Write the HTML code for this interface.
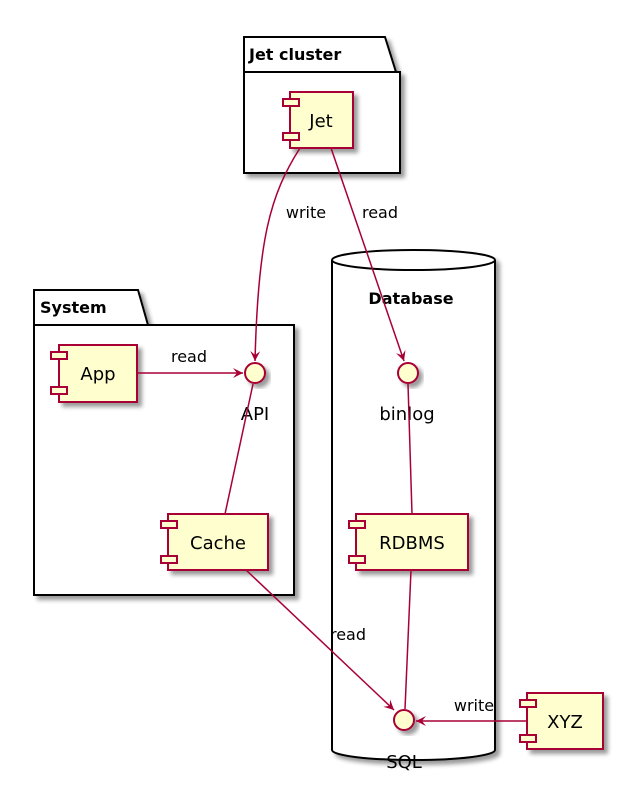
<!DOCTYPE html>
<html><head><meta charset="utf-8"><style>
html,body{margin:0;padding:0;background:#fff;}
svg{display:block;font-family:"DejaVu Sans","Liberation Sans",sans-serif;}
</style></head><body>
<svg width="619" height="789" viewBox="0 0 619 789" xmlns="http://www.w3.org/2000/svg">
<defs>
<filter id="sh" x="-20%" y="-20%" width="150%" height="150%"><feGaussianBlur in="SourceAlpha" stdDeviation="2"/><feOffset dx="4" dy="4"/><feComponentTransfer><feFuncA type="linear" slope="0.4"/></feComponentTransfer><feMerge><feMergeNode/><feMergeNode in="SourceGraphic"/></feMerge></filter>
<marker id="ar" markerWidth="12" markerHeight="12" refX="10" refY="5" orient="auto" markerUnits="userSpaceOnUse"><path d="M0,0 L10,5 L0,10 L4,5 Z" fill="#A80036"/></marker>
</defs>
<!-- Jet cluster -->
<g filter="url(#sh)">
<path d="M244,37 H385 L396,72 H400 V173 H244 Z" fill="#fff" stroke="#000" stroke-width="2"/>
</g>
<line x1="244" y1="72" x2="396" y2="72" stroke="#000" stroke-width="2"/>
<text x="249" y="60" font-size="16" font-weight="bold">Jet cluster</text>
<!-- System -->
<g filter="url(#sh)">
<path d="M34,290 H138 L148,325 H294 V595 H34 Z" fill="#fff" stroke="#000" stroke-width="2"/>
</g>
<line x1="34" y1="325" x2="148" y2="325" stroke="#000" stroke-width="2"/>
<text x="40" y="313" font-size="16" font-weight="bold">System</text>
<!-- Database -->
<g filter="url(#sh)">
<path d="M332,260 A81.5,10 0 0 1 495,260 V750 A81.5,10 0 0 1 332,750 Z" fill="#fff" stroke="#000" stroke-width="2"/>
</g>
<path d="M332,260 A81.5,10 0 0 0 495,260" fill="none" stroke="#000" stroke-width="2"/>
<text x="411" y="304" font-size="16" font-weight="bold" text-anchor="middle">Database</text>

<!-- components -->
<g stroke="#A80036" stroke-width="2" fill="#FEFECE">
<g filter="url(#sh)"><rect x="290" y="92" width="63" height="56"/></g>
<rect x="283" y="99" width="16" height="7"/><rect x="283" y="133" width="16" height="7"/>
<g filter="url(#sh)"><rect x="59" y="345" width="78" height="57"/></g>
<rect x="51" y="352" width="16" height="7"/><rect x="51" y="387" width="16" height="7"/>
<g filter="url(#sh)"><rect x="168" y="514" width="100" height="56"/></g>
<rect x="161" y="521" width="16" height="7"/><rect x="161" y="556" width="16" height="7"/>
<g filter="url(#sh)"><rect x="356" y="514" width="112" height="56"/></g>
<rect x="349" y="521" width="16" height="7"/><rect x="349" y="556" width="16" height="7"/>
<g filter="url(#sh)"><rect x="527" y="693" width="76" height="56"/></g>
<rect x="520" y="700" width="16" height="7"/><rect x="520" y="735" width="16" height="7"/>
<g filter="url(#sh)"><circle cx="255" cy="373" r="10"/></g>
<g filter="url(#sh)"><circle cx="408" cy="373" r="10"/></g>
<g filter="url(#sh)"><circle cx="404" cy="720" r="10"/></g>
</g>
<g font-size="18" text-anchor="middle">
<text x="321" y="127">Jet</text>
<text x="98" y="380">App</text>
<text x="218" y="549">Cache</text>
<text x="412" y="549">RDBMS</text>
<text x="565" y="728">XYZ</text>
<text x="255" y="420">API</text>
<text x="407" y="420">binlog</text>
<text x="404" y="768">SQL</text>
</g>
<!-- edges -->
<g stroke="#A80036" stroke-width="1.5" fill="none">
<path d="M300,148 C270,195 258,240 255,361" marker-end="url(#ar)"/>
<path d="M331,148 L404,361" marker-end="url(#ar)"/>
<path d="M137,373 L243,373" marker-end="url(#ar)"/>
<path d="M253,384 L225,514"/>
<path d="M408,384 L412,514"/>
<path d="M246,570 L394,710" marker-end="url(#ar)"/>
<path d="M411,570 L405,709"/>
<path d="M527,721 L416,721" marker-end="url(#ar)"/>
</g>
<g font-size="16" text-anchor="middle">
<text x="306" y="218">write</text>
<text x="380" y="218">read</text>
<text x="189" y="362">read</text>
<text x="348" y="640">read</text>
<text x="474" y="711">write</text>
</g>
</svg>
</body></html>
